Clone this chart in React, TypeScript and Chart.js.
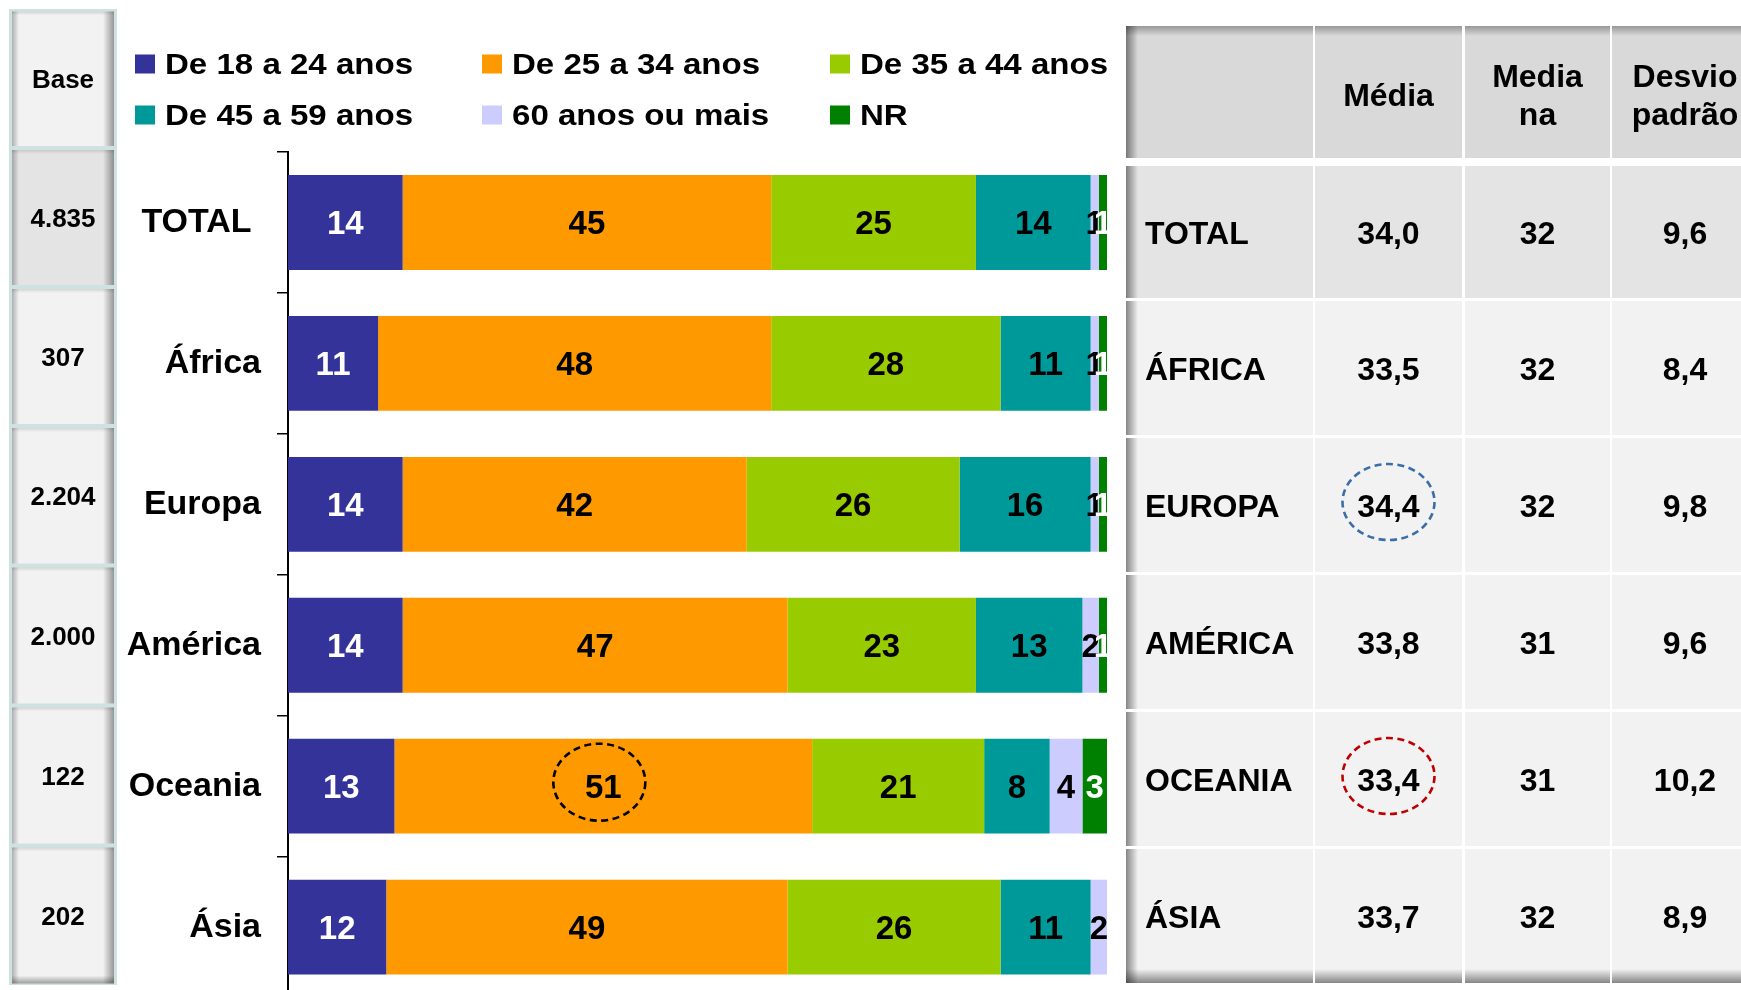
import React, { useEffect, useRef } from 'react';
import { Chart, registerables } from 'chart.js';

Chart.register(...registerables);

const FONT = '"Liberation Sans", Arial, sans-serif';

// ---------- data ----------
const categories = ['TOTAL ', 'África', 'Europa', 'América', 'Oceania', 'Ásia'];
const seriesLabels = ['De 18 a 24 anos', 'De 25 a 34 anos', 'De 35 a 44 anos', 'De 45 a 59 anos', '60 anos ou mais', 'NR'];
const age18to24 = [14, 11, 14, 14, 13, 12];
const age25to34 = [45, 48, 42, 47, 51, 49];
const age35to44 = [25, 28, 26, 23, 21, 26];
const age45to59 = [14, 11, 16, 13, 8, 11];
const age60plus = [1, 1, 1, 2, 4, 2];
const ageNR = [1, 1, 1, 1, 3, 0];
const seriesColors = ['#333399', '#FF9900', '#99CC00', '#009999', '#CCCCFF', '#008000'];
const labelColors = ['#FFFFFF', '#000000', '#000000', '#000000', '#000000', '#FFFFFF'];

const baseHeader = 'Base';
const baseValues = ['4.835', '307', '2.204', '2.000', '122', '202'];

const tableHeaders = [[''], ['Média'], ['Media', 'na'], ['Desvio', 'padrão']];
const tableRegions = ['TOTAL', 'ÁFRICA', 'EUROPA', 'AMÉRICA', 'OCEANIA', 'ÁSIA'];
const tableMean = ['34,0', '33,5', '34,4', '33,8', '33,4', '33,7'];
const tableMedian = ['32', '32', '32', '31', '31', '32'];
const tableStdDev = ['9,6', '8,4', '9,8', '9,6', '10,2', '8,9'];

const highlightSeries = 1;
const highlightCategory = 4;
const tableHighlights = [
  { row: 2, color: '#3A6EA8' },
  { row: 4, color: '#C00000' },
];

// ---------- layout ----------
const W = 1741;
const TICK_FONT = 34;
const TICK_PAD = 16;
const H = Math.round(998 + (TICK_FONT * 1.2) / 2 + TICK_PAD);

const capY = (cy: number, size: number) => cy + (size * 0.716) / 2;

function shadeRect(ctx: CanvasRenderingContext2D, x: number, y: number, w: number, h: number, dir: 'l' | 'r' | 't' | 'b', alpha: number) {
  let g: CanvasGradient;
  if (dir === 'l') g = ctx.createLinearGradient(x, 0, x + w, 0);
  else if (dir === 'r') g = ctx.createLinearGradient(x + w, 0, x, 0);
  else if (dir === 't') g = ctx.createLinearGradient(0, y, 0, y + h);
  else g = ctx.createLinearGradient(0, y + h, 0, y);
  g.addColorStop(0, `rgba(0,0,0,${alpha})`);
  g.addColorStop(1, 'rgba(0,0,0,0)');
  ctx.fillStyle = g;
  ctx.fillRect(x, y, w, h);
}

function dashedEllipse(ctx: CanvasRenderingContext2D, cx: number, cy: number, rx: number, ry: number, color: string) {
  ctx.save();
  ctx.beginPath();
  ctx.ellipse(cx, cy, rx, ry, 0, 0, Math.PI * 2);
  ctx.setLineDash([7, 4.5]);
  ctx.lineWidth = 2.6;
  ctx.strokeStyle = color;
  ctx.stroke();
  ctx.restore();
}

const barLabelPlugin = {
  id: 'barLabels',
  afterDatasetsDraw(chart: any) {
    const { ctx, chartArea } = chart;
    ctx.save();
    ctx.beginPath();
    ctx.rect(chartArea.left, chartArea.top, chartArea.right - chartArea.left, chartArea.bottom - chartArea.top);
    ctx.clip();
    const fs = 33;
    ctx.font = `bold ${fs}px ${FONT}`;
    ctx.textAlign = 'center';
    ctx.textBaseline = 'alphabetic';
    chart.data.datasets.forEach((ds: any, i: number) => {
      const meta = chart.getDatasetMeta(i);
      meta.data.forEach((el: any, j: number) => {
        const v = ds.data[j] as number;
        if (!v) return;
        const p = el.getProps(['x', 'y', 'base'], true);
        ctx.fillStyle = labelColors[i];
        ctx.fillText(String(v), (p.x + p.base) / 2, capY(p.y, fs));
      });
    });
    ctx.restore();

    const hel: any = chart.getDatasetMeta(highlightSeries).data[highlightCategory];
    if (hel) {
      const p = hel.getProps(['x', 'y', 'base'], true);
      dashedEllipse(ctx, (p.x + p.base) / 2 - 4, p.y - 4, 46, 38.5, '#000000');
    }
  },
};

const sidePlugin = {
  id: 'sideDecor',
  afterDraw(chart: any) {
    const ctx: CanvasRenderingContext2D = chart.ctx;
    ctx.save();

    // ----- legend -----
    const legX = [135, 482, 830];
    const legY = [64, 115];
    const legSize = 29;
    chart.data.datasets.forEach((ds: any, i: number) => {
      const cx = legX[i % 3];
      const cy = legY[Math.floor(i / 3)];
      ctx.fillStyle = ds.backgroundColor;
      ctx.fillRect(cx, cy - 9.5, 20, 19);
      ctx.save();
      ctx.translate(cx + 30, capY(cy, legSize));
      ctx.scale(1.14, 1);
      ctx.fillStyle = '#000';
      ctx.font = `bold ${legSize}px ${FONT}`;
      ctx.textAlign = 'left';
      ctx.textBaseline = 'alphabetic';
      ctx.fillText(ds.label, 0, 0);
      ctx.restore();
    });

    // ----- base column -----
    const bx0 = 9, bx1 = 117;
    const bounds = [9, 147.5, 286.5, 425.5, 565, 705, 845, 985];
    ctx.fillStyle = '#CFE2E2';
    ctx.fillRect(bx0, bounds[0], bx1 - bx0, bounds[bounds.length - 1] - bounds[0]);
    const baseTexts = [baseHeader, ...baseValues];
    for (let r = 0; r < baseTexts.length; r++) {
      const x = 12, w = 102;
      const y = bounds[r] + 2.5, h = bounds[r + 1] - bounds[r] - 4;
      ctx.fillStyle = r === 1 ? '#E4E4E4' : '#F2F2F2';
      ctx.fillRect(x, y, w, h);
      shadeRect(ctx, x, y, 7, h, 'l', 0.28);
      shadeRect(ctx, x + w - 11, y, 11, h, 'r', 0.38);
      shadeRect(ctx, x, y, w, 4, 't', 0.12);
      if (r === baseTexts.length - 1) shadeRect(ctx, x, y + h - 8, w, 8, 'b', 0.35);
      ctx.fillStyle = '#000';
      ctx.font = `bold 26px ${FONT}`;
      ctx.textAlign = 'center';
      ctx.textBaseline = 'alphabetic';
      ctx.fillText(baseTexts[r], x + w / 2, capY(y + h / 2, 26));
    }

    // ----- right table -----
    const cols = [
      { x: 1126, w: 187 },
      { x: 1315, w: 147 },
      { x: 1465, w: 145 },
      { x: 1612, w: 146 },
    ];
    const rows = [
      { y: 26, h: 132 },
      { y: 166, h: 132 },
      { y: 301, h: 134 },
      { y: 438, h: 134 },
      { y: 575, h: 134 },
      { y: 712, h: 134 },
      { y: 849, h: 134 },
    ];
    const fs = 32;
    rows.forEach((row, r) => {
      cols.forEach((col, c) => {
        ctx.fillStyle = r === 0 ? '#D9D9D9' : r === 1 ? '#E4E4E4' : '#F2F2F2';
        ctx.fillRect(col.x, row.y, col.w, row.h);
        if (c === 0) shadeRect(ctx, col.x, row.y, 12, row.h, 'l', 0.45);
        if (r === 0) shadeRect(ctx, col.x, row.y, col.w, 10, 't', 0.3);
        if (r === rows.length - 1) shadeRect(ctx, col.x, row.y + row.h - 14, col.w, 14, 'b', 0.45);
      });
    });
    ctx.fillStyle = '#000';
    ctx.font = `bold ${fs}px ${FONT}`;
    ctx.textBaseline = 'alphabetic';
    tableHeaders.forEach((lines, c) => {
      const col = cols[c];
      ctx.textAlign = 'center';
      if (lines.length === 1) {
        ctx.fillText(lines[0], col.x + col.w / 2, capY(95, fs));
      } else {
        ctx.fillText(lines[0], col.x + col.w / 2, capY(76, fs));
        ctx.fillText(lines[1], col.x + col.w / 2, capY(113.5, fs));
      }
    });
    const columnsData = [tableRegions, tableMean, tableMedian, tableStdDev];
    for (let r = 0; r < tableRegions.length; r++) {
      const row = rows[r + 1];
      const cy = row.y + row.h / 2 + 1;
      columnsData.forEach((arr, c) => {
        const col = cols[c];
        if (c === 0) {
          ctx.textAlign = 'left';
          ctx.fillText(arr[r], col.x + 19, capY(cy, fs));
        } else {
          ctx.textAlign = 'center';
          ctx.fillText(arr[r], col.x + col.w / 2, capY(cy, fs));
        }
      });
    }
    tableHighlights.forEach((hl) => {
      const row = rows[hl.row + 1];
      const col = cols[1];
      dashedEllipse(ctx, col.x + col.w / 2, row.y + row.h / 2 - 3, 46, 38, hl.color);
    });

    ctx.restore();
  },
};

export default function App() {
  const canvasRef = useRef<HTMLCanvasElement | null>(null);

  useEffect(() => {
    const canvas = canvasRef.current;
    if (!canvas) return;
    Chart.defaults.font.family = FONT;
    const seriesData = [age18to24, age25to34, age35to44, age45to59, age60plus, ageNR];
    const chart = new Chart(canvas, {
      type: 'bar',
      data: {
        labels: categories,
        datasets: seriesData.map((d, i) => ({
          label: seriesLabels[i],
          data: d,
          backgroundColor: seriesColors[i],
          borderWidth: 0,
          barPercentage: 0.673,
          categoryPercentage: 1,
        })),
      },
      options: {
        indexAxis: 'y',
        responsive: false,
        maintainAspectRatio: false,
        animation: false,
        events: [],
        layout: { padding: { top: 152, right: W - 1107, bottom: 1, left: 0 } },
        plugins: {
          legend: { display: false },
          tooltip: { enabled: false },
        },
        scales: {
          x: { stacked: true, min: 0, max: 100, display: false },
          y: {
            stacked: true,
            afterFit: (scale: any) => {
              scale.width = 288;
            },
            grid: {
              display: true,
              drawOnChartArea: false,
              drawTicks: true,
              tickLength: 11,
              color: '#000000',
              lineWidth: 1.5,
              offset: true,
            },
            border: { display: true, color: '#000000', width: 2 },
            ticks: {
              color: '#000000',
              padding: TICK_PAD,
              font: { family: FONT, weight: 'bold', size: TICK_FONT },
            },
          },
        },
      } as any,
      plugins: [barLabelPlugin, sidePlugin],
    });
    return () => chart.destroy();
  }, []);

  return (
    <div style={{ position: 'fixed', left: 0, top: 0, width: W, height: 990, overflow: 'hidden', background: '#FFFFFF' }}>
      <canvas ref={canvasRef} width={W} height={H} style={{ display: 'block', width: W, height: H }} />
    </div>
  );
}
